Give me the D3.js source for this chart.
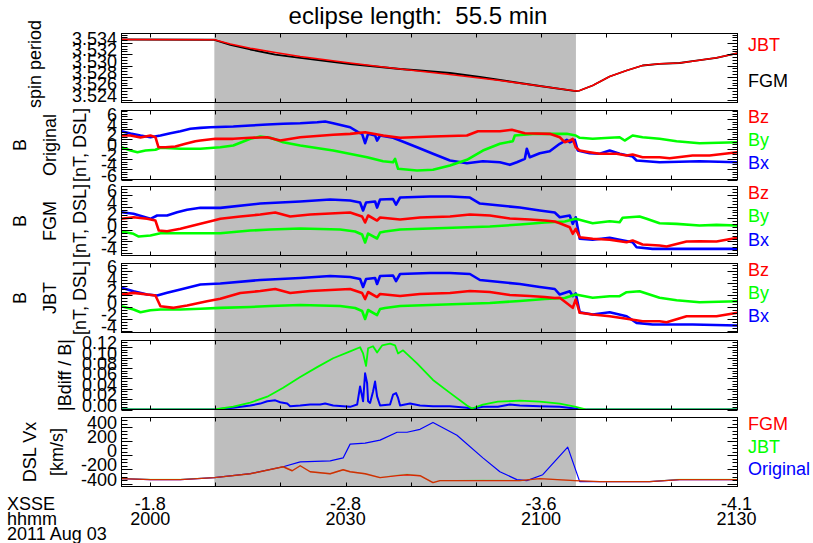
<!DOCTYPE html>
<html>
<head>
<meta charset="utf-8">
<script src="https://d3js.org/d3.v7.min.js"></script>
<style>
body { margin: 0; background: #fff; }
text { font-family: "Liberation Sans", Arial, Helvetica, sans-serif; font-size: 18px; }
</style>
</head>
<body>
<div id="chart"></div>
<script>
// time is minutes after 20:00 UT, 2011 Aug 03
var timeRange = [-4.4, 90.15];
var eclipse = [9.85, 65.35];
var xTicks = [0, 30, 60, 90];
var hhmmLabels = ['2000', '2030', '2100', '2130'];
var xsseLabels = ['-1.8', '-2.8', '-3.6', '-4.1'];

// spin period [s]
var spinTicks = [3.524, 3.526, 3.528, 3.530, 3.532, 3.534];
var spinJBT = [[-4.4,3.53462],[9.85,3.53457],[12.3,3.53382],[15.37,3.53308],[19.2,3.53232],[23.03,3.53161],[30.69,3.53046],[38.36,3.52940],[46.02,3.52842],[53.68,3.52736],[59.8,3.52639],[65.32,3.52550],[65.93,3.52559],[67.92,3.52648],[70.53,3.52807],[73.13,3.52913],[75.58,3.53002],[78.19,3.53032],[81.26,3.53046],[83.25,3.53078],[86.93,3.53138],[90.15,3.53219]];
var spinFGM = [[-4.4,3.53462],[9.85,3.53457],[12.3,3.53365],[15.37,3.53285],[19.2,3.53196],[23.03,3.53135],[30.69,3.53028],[38.36,3.52940],[41.42,3.52913],[46.02,3.52869],[50.61,3.52798],[53.68,3.52745],[59.8,3.52639],[65.32,3.52550],[65.93,3.52559],[67.92,3.52648],[70.53,3.52807],[73.13,3.52913],[75.58,3.53002],[78.19,3.53032],[81.26,3.53046],[83.25,3.53078],[86.93,3.53138],[90.15,3.53219]];

// B original [nT, DSL]
var bTicksOrig = [-6, -4, -2, 0, 2, 4, 6];
var origBx = [[-4.4,3.58],[-3.02,3.12],[-1.49,2.73],[0.04,2.39],[1.58,2.73],[3.11,3.18],[4.64,3.58],[6.17,4.06],[7.71,4.25],[9.24,4.37],[12.76,4.51],[15.37,4.71],[17.97,4.91],[20.42,5.05],[23.03,5.17],[25.63,5.37],[26.86,5.50],[28.09,5.17],[30.69,4.37],[31.92,3.38],[32.53,3.06],[32.99,1.20],[33.45,3.06],[34.52,2.73],[34.83,1.73],[35.29,2.73],[37.28,2.27],[38.36,1.73],[40.96,0.40],[43.41,-0.90],[46.02,-2.23],[48.62,-2.77],[51.07,-2.37],[53.68,-2.57],[55.21,-3.09],[56.28,-2.57],[57.51,-1.90],[57.81,0.09],[58.27,-1.58],[59.8,-0.79],[61.33,-0.39],[62.87,1.08],[63.94,1.87],[64.4,1.40],[65.17,1.87],[65.63,-0.25],[67.46,-0.79],[69.0,-0.90],[70.53,-0.25],[72.06,-0.90],[74.05,-1.44],[74.66,-2.23],[78.19,-2.57],[84.32,-2.37],[90.15,-2.57]];
var origBy = [[-4.4,0.40],[-3.02,-0.25],[-1.95,-0.59],[-0.72,-0.25],[0.81,-0.11],[1.58,0.29],[4.64,0.09],[7.71,0.09],[10.77,0.40],[12.76,0.74],[15.37,2.07],[16.9,2.53],[18.43,2.27],[20.42,1.40],[23.03,0.74],[28.09,-0.25],[33.3,-1.58],[35.75,-2.37],[37.28,-2.57],[37.59,-1.90],[38.05,-3.88],[40.96,-4.22],[43.41,-4.08],[46.02,-3.23],[48.62,-2.10],[51.07,-0.25],[53.68,1.08],[55.67,1.60],[55.97,2.73],[58.73,3.06],[61.33,3.06],[63.94,3.06],[65.32,2.73],[65.93,2.27],[67.92,2.07],[70.53,2.27],[72.06,2.39],[72.83,1.73],[74.05,2.73],[75.58,2.39],[78.19,2.07],[80.8,1.60],[84.32,1.20],[90.15,1.40]];
var origBz = [[-4.4,2.73],[-3.02,2.73],[-1.49,2.33],[0.04,2.73],[0.81,2.39],[1.27,0.40],[2.34,0.40],[3.87,0.54],[5.41,1.08],[6.94,1.60],[7.71,1.73],[10.0,2.07],[12.76,2.07],[15.37,2.27],[17.97,2.39],[19.96,1.73],[23.03,2.39],[28.09,2.87],[30.69,3.06],[32.99,3.38],[35.75,2.73],[38.36,2.27],[43.41,2.53],[48.62,2.73],[50.31,3.58],[53.68,3.58],[55.51,3.86],[57.51,3.18],[61.33,3.06],[62.87,2.39],[63.63,1.40],[64.4,1.73],[64.86,2.07],[65.32,0.40],[65.93,-0.25],[67.46,-0.59],[69.0,-0.90],[71.6,-0.90],[73.13,-1.24],[74.05,-1.04],[75.58,-1.58],[78.19,-1.58],[79.73,-1.78],[83.25,-1.24],[85.86,-1.24],[90.15,-0.59]];

// B FGM-corrected [nT, DSL]
var bTicks = [-4, -2, 0, 2, 4, 6];
var fgmBx = [[-4.4,3.03],[-2.56,2.76],[0.04,1.90],[1.07,2.47],[2.6,2.47],[4.14,3.03],[5.67,3.45],[7.71,3.79],[10.77,3.79],[16.9,4.53],[23.03,4.88],[27.63,5.22],[30.69,5.05],[32.22,4.71],[32.68,3.33],[33.14,4.71],[34.52,4.88],[34.83,3.84],[35.29,5.22],[37.28,5.31],[37.74,4.36],[38.36,5.57],[42.95,5.74],[46.02,5.74],[49.08,5.57],[50.61,4.53],[53.68,4.19],[56.74,3.84],[59.8,3.33],[62.1,2.98],[62.87,2.17],[64.4,2.47],[64.86,1.03],[65.32,2.17],[65.93,-1.55],[67.92,-1.72],[70.53,-1.38],[72.06,-1.72],[74.05,-2.14],[74.66,-3.0],[77.12,-3.28],[83.25,-3.28],[90.15,-3.28]];
var fgmBy = [[-4.4,-0.29],[-2.56,-0.69],[-1.75,-1.16],[0.04,-0.98],[1.58,-0.59],[10.77,-0.59],[15.37,-0.12],[18.43,0.05],[23.03,0.22],[29.16,0.05],[31.46,-0.29],[32.53,-0.81],[32.99,-2.19],[33.45,-0.64],[34.83,-1.50],[35.29,-0.47],[36.05,-0.29],[38.36,0.05],[42.95,0.22],[47.55,0.40],[52.14,0.57],[56.74,0.91],[60.57,1.26],[63.63,1.43],[65.32,1.90],[67.92,1.14],[70.53,1.48],[72.06,1.31],[72.52,2.07],[75.12,2.29],[76.2,1.90],[78.19,1.14],[80.8,1.03],[84.32,0.74],[86.93,0.86],[90.15,0.74]];
var fgmBz = [[-4.4,1.90],[-2.56,2.17],[-0.46,1.90],[0.81,1.60],[1.32,-0.12],[2.6,-0.24],[4.64,0.17],[7.71,1.03],[9.74,1.60],[10.77,1.90],[13.83,2.29],[16.9,2.64],[19.2,2.98],[21.49,2.29],[24.56,2.64],[27.63,2.81],[30.69,2.98],[32.53,2.29],[32.99,1.26],[33.45,2.47],[34.83,1.60],[35.29,2.12],[38.36,1.78],[41.42,2.12],[46.02,2.29],[49.08,2.64],[52.14,2.47],[55.21,1.95],[58.27,1.78],[60.57,1.60],[62.1,1.43],[62.87,1.14],[64.4,0.45],[64.86,-0.69],[65.32,0.17],[65.93,-1.28],[67.92,-1.55],[70.53,-1.72],[73.13,-2.14],[74.05,-1.84],[75.58,-2.53],[78.19,-2.71],[79.27,-2.88],[82.33,-2.02],[84.32,-1.97],[86.93,-2.02],[90.15,-1.38]];

// B JBT-corrected [nT, DSL]
var jbtBx = [[-4.4,3.12],[-2.56,2.55],[-0.46,2.0],[1.07,1.83],[2.6,2.28],[4.64,2.83],[7.71,3.67],[10.77,3.83],[16.9,4.42],[23.03,4.75],[27.63,5.08],[30.69,4.92],[32.22,4.58],[32.68,3.25],[33.14,4.58],[34.52,4.75],[34.83,3.75],[35.29,5.08],[37.28,5.17],[37.74,4.25],[38.36,5.42],[42.95,5.58],[46.02,5.58],[49.08,5.42],[50.61,4.42],[53.68,4.08],[56.74,3.75],[59.8,3.25],[62.1,2.92],[62.87,2.0],[64.4,2.55],[64.86,1.72],[65.32,2.2],[65.93,-0.95],[67.92,-1.33],[70.53,-0.95],[73.13,-1.62],[74.66,-2.72],[77.12,-3.0],[83.25,-3.0],[90.15,-3.17]];
var jbtBy = [[-4.4,0.05],[-2.56,-0.5],[-1.49,-0.95],[0.04,-0.62],[1.58,-0.5],[4.64,-0.5],[7.71,-0.38],[10.77,-0.22],[15.37,-0.08],[18.43,0.08],[23.03,0.25],[29.16,0.08],[31.46,-0.25],[32.53,-0.75],[32.99,-2.08],[33.45,-0.58],[34.83,-1.42],[35.29,-0.42],[36.05,-0.25],[38.36,0.08],[42.95,0.25],[47.55,0.42],[52.14,0.58],[56.74,0.92],[60.57,1.25],[63.63,1.42],[65.32,2.0],[67.92,1.45],[70.53,1.72],[72.06,1.72],[73.13,2.38],[75.12,2.55],[78.19,1.45],[80.8,1.05],[84.32,0.72],[90.15,0.88]];
var jbtBz = [[-4.4,2.0],[-2.56,2.28],[-0.46,2.0],[0.81,1.83],[1.58,0.05],[3.61,-0.22],[5.67,0.17],[8.73,0.88],[10.77,1.28],[13.83,2.25],[16.9,2.58],[19.2,2.92],[21.49,2.25],[24.56,2.58],[27.63,2.75],[30.69,2.92],[32.53,2.25],[32.99,1.25],[33.45,2.42],[34.83,1.58],[35.29,2.08],[38.36,1.75],[41.42,2.08],[46.02,2.25],[49.08,2.58],[52.14,2.42],[55.21,1.92],[58.27,1.75],[60.57,1.58],[62.1,1.42],[62.87,1.45],[64.86,-0.22],[65.32,1.17],[65.93,-1.05],[67.92,-1.33],[70.53,-1.62],[73.13,-2.05],[75.58,-2.45],[78.19,-2.45],[79.27,-2.62],[82.33,-1.62],[86.93,-1.62],[90.15,-1.05]];

// |Bdiff / B|
var bdiffTicks = [0, 0.02, 0.04, 0.06, 0.08, 0.10, 0.12];
var bdiffGreen = [[-4.4,0],[9.85,0],[12.76,0.0057],[15.37,0.0133],[17.97,0.0247],[20.42,0.042],[23.03,0.0627],[25.63,0.0817],[28.09,0.0988],[30.69,0.112],[32.22,0.12],[32.68,0.108],[33.14,0.084],[33.45,0.118],[34.21,0.122],[34.83,0.110],[35.6,0.1235],[36.82,0.127],[37.59,0.1235],[38.05,0.108],[38.82,0.114],[40.96,0.089],[43.41,0.057],[46.02,0.032],[48.62,0.0076],[49.39,0.0019],[51.07,0.0095],[53.37,0.015],[56.74,0.017],[59.8,0.015],[62.87,0.0114],[65.17,0.0057],[67.0,0],[90.15,0]];
var bdiffBlue = [[-4.4,0],[9.85,0],[12.76,0.0032],[15.37,0.0076],[16.9,0.0114],[17.97,0.0158],[19.2,0.0177],[19.96,0.0139],[21.03,0.0114],[21.49,0.0063],[23.03,0.0076],[24.56,0.0095],[26.09,0.0095],[26.86,0.0114],[28.09,0.0076],[30.69,0.0051],[31.77,0.0095],[32.22,0.0443],[32.53,0.0253],[32.68,0.0158],[32.99,0.0697],[33.3,0.0507],[33.45,0.0158],[33.75,0.0127],[34.21,0.0348],[34.52,0.0538],[34.83,0.0253],[35.29,0.0076],[36.82,0.0095],[37.28,0.0285],[37.74,0.0317],[38.05,0.0222],[38.36,0.0076],[39.89,0.0114],[41.42,0.0076],[43.41,0.0063],[46.02,0.0063],[48.62,0.0032],[49.39,0.0013],[51.07,0.0051],[53.37,0.0051],[55.21,0.0095],[56.74,0.0076],[59.8,0.0063],[62.87,0.0051],[65.17,0.0019],[65.93,0],[90.15,0]];

// DSL Vx [km/s]
var vxTicks = [-400, -200, 0, 200, 400];
var fgmVx = [[-4.4,-330],[0.04,-344],[4.64,-344],[9.85,-316],[15.37,-260],[20.42,-161],[21.8,-218],[23.03,-147],[24.56,-232],[27.63,-260],[29.62,-204],[30.69,-232],[32.99,-260],[35.29,-316],[37.9,-288],[39.43,-274],[41.42,-288],[43.41,-386],[44.48,-358],[47.09,-358],[51.07,-358],[53.68,-358],[56.74,-358],[59.8,-330],[65.17,-358],[69.0,-372],[76.66,-372],[81.26,-344],[90.15,-344]];
var jbtVx = [[-4.4,-330],[0.04,-338],[4.64,-338],[9.85,-316],[15.37,-260],[20.42,-161],[21.8,-218],[23.03,-147],[24.56,-232],[27.63,-260],[29.62,-204],[30.69,-232],[32.99,-260],[35.29,-316],[37.9,-280],[39.43,-268],[41.42,-288],[43.41,-386],[44.48,-358],[47.09,-358],[51.07,-350],[53.68,-352],[56.74,-358],[59.8,-330],[65.17,-358],[69.0,-372],[76.66,-372],[81.26,-338],[90.15,-338]];
var origVx = [[-4.4,-330],[0.04,-344],[4.64,-344],[9.85,-316],[15.37,-260],[20.42,-161],[23.03,-91],[27.63,-77],[29.62,-35],[30.69,161],[32.99,175],[35.29,218],[37.9,330],[39.43,330],[41.42,372],[43.41,470],[47.09,288],[51.07,-35],[53.68,-232],[56.28,-344],[57.81,-358],[60.26,-274],[64.09,119],[65.93,-372],[69.0,-372],[76.66,-372],[81.26,-344],[90.15,-344]];

var RED = '#ff0000', GREEN = '#00ff00', BLUE = '#0000ff';

var W = 813, H = 543;
var x0 = 121.5, x1 = 737.5;
var panelTop = [33.5, 110.5, 186.5, 263.5, 340.5, 417.5];
var panelH = 69;

var panels = [
    { domain: [3.52347, 3.53568], ticks: spinTicks, minor: 0.0005, fmt: d3.format('.3f'),
      titles: [['spin period', 41, -4]],
      series: [[spinFGM, 'black', 1.8], [spinJBT, RED, 1.6]],
      legend: [['JBT', RED, 10.5], ['FGM', 'black', 47]] },
    { domain: [-6, 7.69], ticks: bTicksOrig, minor: 0.5, fmt: String,
      titles: [['B', 26, 0], ['Original', 56, 0], ['[nT, DSL]', 86, 0]],
      series: [[origBx, BLUE, 2.6], [origBy, GREEN, 2.6], [origBz, RED, 2.6]],
      legend: [['Bz', RED, 5.5], ['By', GREEN, 28.5], ['Bx', BLUE, 51.5]] },
    { domain: [-4.43, 7.47], ticks: bTicks, minor: 0.5, fmt: String,
      titles: [['B', 26, 0], ['FGM', 56, 0], ['[nT, DSL]', 86, 0]],
      series: [[fgmBx, BLUE, 2.6], [fgmBy, GREEN, 2.6], [fgmBz, RED, 2.6]],
      legend: [['Bz', RED, 6], ['By', GREEN, 29], ['Bx', BLUE, 52.5]] },
    { domain: [-4.33, 7.17], ticks: bTicks, minor: 0.5, fmt: String,
      titles: [['B', 26, 0], ['JBT', 56, 0], ['[nT, DSL]', 86, 0]],
      series: [[jbtBx, BLUE, 2.6], [jbtBy, GREEN, 2.6], [jbtBz, RED, 2.6]],
      legend: [['Bz', RED, 5.5], ['By', GREEN, 28.5], ['Bx', BLUE, 51.5]] },
    { domain: [0, 0.133], ticks: bdiffTicks, minor: 0.005, fmt: d3.format('.2f'),
      titles: [['|Bdiff / B|', 71, 0]],
      series: [[bdiffBlue, BLUE, 2], [bdiffGreen, GREEN, 1.8]],
      legend: [] },
    { domain: [-442, 540], ticks: vxTicks, minor: 50, fmt: String,
      titles: [['DSL Vx', 36, 0], ['[km/s]', 63, 0]],
      series: [[origVx, BLUE, 1.2], [fgmVx, RED, 1.4], [jbtVx, 'rgba(0,255,0,0.2)', 1.4]],
      legend: [['FGM', RED, 6], ['JBT', GREEN, 28.5], ['Original', BLUE, 51]] }
];

var svg = d3.select('#chart').append('svg')
    .attr('width', W)
    .attr('height', H);

var x = d3.scaleLinear().domain(timeRange).range([x0, x1]);

// eclipse shading behind all panels
svg.append('rect')
    .attr('x', x(eclipse[0]))
    .attr('y', panelTop[0])
    .attr('width', x(eclipse[1]) - x(eclipse[0]))
    .attr('height', panelTop[5] + panelH - panelTop[0])
    .attr('fill', '#bebebe');

svg.append('text')
    .attr('x', 418)
    .attr('y', 24)
    .attr('text-anchor', 'middle')
    .style('font-size', '24px')
    .text('eclipse length:\u00a0 55.5 min');

var xMinor = d3.range(0, 91, 10);

panels.forEach(function (p, i) {
    var top = panelTop[i], bottom = top + panelH;
    var y = d3.scaleLinear().domain(p.domain).range([bottom, top]);

    svg.append('clipPath').attr('id', 'clip' + i)
        .append('rect')
        .attr('x', x0).attr('y', top)
        .attr('width', x1 - x0).attr('height', panelH);

    var line = d3.line()
        .x(function (d) { return x(d[0]); })
        .y(function (d) { return y(d[1]); });

    var lines = svg.append('g').attr('clip-path', 'url(#clip' + i + ')');
    p.series.forEach(function (s) {
        lines.append('path')
            .datum(s[0])
            .attr('d', line)
            .attr('fill', 'none')
            .attr('stroke', s[1])
            .attr('stroke-width', s[2])
            .attr('stroke-linejoin', 'round');
    });

    var ax = svg.append('g').attr('stroke', 'black').attr('stroke-width', 1);

    // minor + major y ticks, both sides, pointing inward
    var n0 = Math.ceil(p.domain[0] / p.minor - 1e-6), n1 = Math.floor(p.domain[1] / p.minor + 1e-6);
    d3.range(n0, n1 + 1).forEach(function (k) {
        var v = k * p.minor;
        var major = p.ticks.some(function (t) { return Math.abs(t - v) < p.minor / 10; });
        var yy = Math.round(y(v)) + 0.5;
        ax.append('line').attr('x1', x0).attr('x2', x0 + (major ? 11 : 6)).attr('y1', yy).attr('y2', yy);
        ax.append('line').attr('x1', x1).attr('x2', x1 - (major ? 10 : 5)).attr('y1', yy).attr('y2', yy);
    });

    // time ticks on top and bottom edges
    xMinor.forEach(function (t) {
        var xx = Math.round(x(t)) + 0.5;
        ax.append('line').attr('x1', xx).attr('x2', xx).attr('y1', top).attr('y2', top + 4);
        ax.append('line').attr('x1', xx).attr('x2', xx).attr('y1', bottom).attr('y2', bottom - 4);
    });

    ax.append('rect')
        .attr('x', x0).attr('y', top)
        .attr('width', x1 - x0).attr('height', panelH)
        .attr('fill', 'none');

    // y tick labels
    svg.append('g').selectAll('text')
        .data(p.ticks)
        .enter()
        .append('text')
        .attr('x', 117)
        .attr('y', function (d) { return y(d) + 2; })
        .attr('text-anchor', 'end')
        .text(p.fmt);

    // rotated axis titles
    p.titles.forEach(function (t) {
        svg.append('text')
            .attr('text-anchor', 'middle')
            .attr('transform', 'translate(' + t[1] + ',' + (top + panelH / 2 + t[2]) + ') rotate(-90)')
            .text(t[0]);
    });

    // legend on the right
    p.legend.forEach(function (l) {
        svg.append('text')
            .attr('x', 748)
            .attr('y', top + l[2] + 6.5)
            .attr('fill', l[1])
            .text(l[0]);
    });
});

// bottom annotations
var ann = svg.append('g');
ann.append('text').attr('x', 7).attr('y', 510).text('XSSE');
ann.append('text').attr('x', 7).attr('y', 525).text('hhmm');
ann.append('text').attr('x', 7).attr('y', 540).text('2011 Aug 03');

ann.selectAll('text.xsse')
    .data(xTicks)
    .enter()
    .append('text')
    .attr('class', 'xsse')
    .attr('x', function (d) { return x(d); })
    .attr('y', 510)
    .attr('text-anchor', 'middle')
    .text(function (d, i) { return xsseLabels[i]; });

ann.selectAll('text.hhmm')
    .data(xTicks)
    .enter()
    .append('text')
    .attr('class', 'hhmm')
    .attr('x', function (d) { return x(d); })
    .attr('y', 525)
    .attr('text-anchor', 'middle')
    .text(function (d, i) { return hhmmLabels[i]; });
</script>
</body>
</html>
